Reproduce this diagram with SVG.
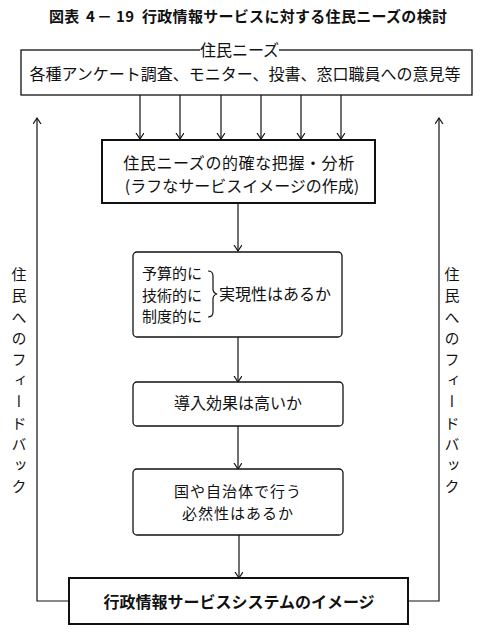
<svg xmlns="http://www.w3.org/2000/svg" width="485" height="635" viewBox="0 0 485 635">
<style>
text{font-family:"Noto Sans CJK JP","Noto Sans CJK SC",sans-serif;fill:#111;}
.t{font-size:16px;text-anchor:middle;}
.s{font-size:15px;}
.b{font-weight:bold;}
.box{fill:#fff;stroke:#111;stroke-width:1.3;}
.thick{stroke-width:2;}
.ln{fill:none;stroke:#111;stroke-width:1.2;}
.v{font-size:15px;writing-mode:vertical-rl;letter-spacing:6.2px;}
</style>
<defs>
<marker id="ah" markerUnits="userSpaceOnUse" markerWidth="10" markerHeight="10" refX="6" refY="4" orient="auto">
<path d="M0,0 L6,4 L0,8" fill="none" stroke="#111" stroke-width="1.2"/>
</marker>
</defs>
<rect width="485" height="635" fill="#fff"/>
<g id="title">
<text class="b" style="font-size:15px;letter-spacing:0.3px" y="22"><tspan x="49">図表</tspan><tspan x="86">4</tspan><tspan x="97">－</tspan><tspan x="116">19</tspan><tspan x="142">行政情報サービスに対する住民ニーズの検討</tspan></text>
</g>
<g id="connectors">
<line class="ln" x1="140" y1="95" x2="140" y2="139" marker-end="url(#ah)"/>
<line class="ln" x1="180" y1="95" x2="180" y2="139" marker-end="url(#ah)"/>
<line class="ln" x1="221" y1="95" x2="221" y2="139" marker-end="url(#ah)"/>
<line class="ln" x1="261" y1="95" x2="261" y2="139" marker-end="url(#ah)"/>
<line class="ln" x1="301" y1="95" x2="301" y2="139" marker-end="url(#ah)"/>
<line class="ln" x1="341" y1="95" x2="341" y2="139" marker-end="url(#ah)"/>
<line class="ln" x1="238" y1="204" x2="238" y2="251" marker-end="url(#ah)"/>
<line class="ln" x1="238" y1="337" x2="238" y2="382" marker-end="url(#ah)"/>
<line class="ln" x1="238" y1="426" x2="238" y2="469" marker-end="url(#ah)"/>
<line class="ln" x1="239" y1="535" x2="239" y2="578" marker-end="url(#ah)"/>
<polyline class="ln" points="69,601 37,601 37,118" marker-end="url(#ah)"/>
<polyline class="ln" points="408,601 439,601 439,118" marker-end="url(#ah)"/>
</g>
<g id="needs">
<rect class="box" x="21" y="50" width="451" height="45"/>
<rect x="200" y="44" width="79" height="12" fill="#fff"/>
<text class="t" x="239.5" y="56">住民ニーズ</text>
<text class="t" x="245" y="80">各種アンケート調査、モニター、投書、窓口職員への意見等</text>
</g>
<g id="analysis">
<rect class="box thick" x="102" y="140" width="273" height="63"/>
<text class="t" x="239" y="169" style="letter-spacing:0.6px">住民ニーズの的確な把握・分析</text>
<text class="t" x="242" y="192">(ラフなサービスイメージの作成)</text>
</g>
<g id="feasibility">
<rect class="box" x="133" y="252" width="209" height="85" rx="4"/>
<text class="s" x="142" y="279">予算的に</text>
<text class="s" x="142" y="301">技術的に</text>
<text class="s" x="142" y="322">制度的に</text>
<path class="ln" d="M208,271 Q213,271 213,276 L213,289 Q213,293 217,294 Q213,295 213,299 L213,312 Q213,317 208,317"/>
<text x="219" y="300" style="font-size:16px">実現性はあるか</text>
</g>
<g id="effect">
<rect class="box" x="133" y="382" width="210" height="44" rx="4"/>
<text class="t" x="238" y="409">導入効果は高いか</text>
</g>
<g id="necessity">
<rect class="box" x="133" y="469" width="210" height="66" rx="4"/>
<text class="t" x="238" y="497" style="font-size:15px;letter-spacing:1px">国や自治体で行う</text>
<text class="t" x="238" y="519" style="font-size:15px;letter-spacing:1px">必然性はあるか</text>
</g>
<g id="image">
<rect class="box thick" x="69" y="578" width="339" height="46"/>
<text class="t b" x="239" y="608">行政情報サービスシステムのイメージ</text>
</g>
<g id="feedback-left">
<text class="v" x="19" y="267">住民へのフィードバック</text>
</g>
<g id="feedback-right">
<text class="v" x="452" y="267">住民へのフィードバック</text>
</g>
</svg>
